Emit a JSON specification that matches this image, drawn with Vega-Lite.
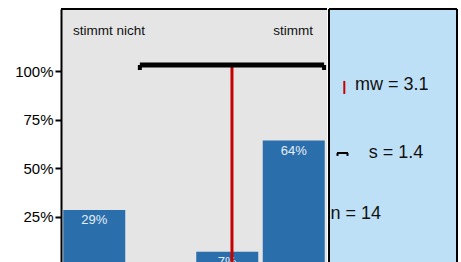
{
  "$schema": "https://vega.github.io/schema/vega-lite/v6.json",
  "padding": {"left": 5, "top": 8, "right": 6, "bottom": 0},
  "spacing": 0,
  "config": {"font": "Liberation Sans", "concat": {"spacing": 0}},
  "hconcat": [
    {
      "width": 266,
      "height": 254,
      "view": {"fill": "#e5e5e5", "stroke": null},
      "layer": [
        {
          "data": {"values": [
            {"cat": 1, "pct": 0.286, "label": "29%"},
            {"cat": 3, "pct": 0.071, "label": "7%"},
            {"cat": 4, "pct": 0.643, "label": "64%"}
          ]},
          "encoding": {
            "x": {"field": "cat", "type": "quantitative", "scale": {"domain": [0.5, 4.5], "nice": false, "zero": false, "padding": 0}, "axis": null},
            "y": {"field": "pct", "type": "quantitative", "scale": {"domain": [0.013, 1.32], "nice": false, "zero": false, "padding": 0},
              "axis": {"values": [0.25, 0.5, 0.75, 1], "format": ".0%", "labelFontSize": 15, "labelColor": "black", "labelPadding": 2,
                "tickSize": 6, "tickColor": "black", "tickWidth": 2, "domainColor": "black", "domainWidth": 2, "grid": false,
                "title": null, "minExtent": 56, "maxExtent": 56, "labelFont": "Liberation Sans"}}
          },
          "layer": [
            {"mark": {"type": "bar", "size": 62, "color": "#2a6eab", "clip": true}},
            {"mark": {"type": "text", "baseline": "top", "dy": 4, "color": "#e6eef7", "fontSize": 13, "clip": true},
              "encoding": {"text": {"field": "label"}}}
          ]
        },
        {
          "data": {"values": [{"mean": 3.071, "lo": 1.686, "hi": 4.456}]},
          "layer": [
            {"mark": {"type": "rule", "color": "#c80000", "strokeWidth": 3, "clip": true},
              "encoding": {"x": {"field": "mean", "type": "quantitative"}, "y": {"datum": 1.03}, "y2": {"datum": 0}}},
            {"mark": {"type": "rule", "color": "black", "strokeWidth": 5},
              "encoding": {"x": {"field": "lo", "type": "quantitative"}, "x2": {"field": "hi"}, "y": {"datum": 1.032}}},
            {"mark": {"type": "rule", "color": "black", "strokeWidth": 4},
              "encoding": {"x": {"field": "lo", "type": "quantitative"}, "y": {"datum": 1.032}, "y2": {"datum": 1.006}}},
            {"mark": {"type": "rule", "color": "black", "strokeWidth": 4},
              "encoding": {"x": {"field": "hi", "type": "quantitative"}, "y": {"datum": 1.032}, "y2": {"datum": 1.006}}}
          ]
        },
        {
          "data": {"values": [{"label": "stimmt nicht"}]},
          "mark": {"type": "text", "align": "left", "baseline": "alphabetic", "fontSize": 13.5, "color": "#111111"},
          "encoding": {"x": {"datum": 0.68}, "y": {"datum": 1.186}, "text": {"field": "label"}}
        },
        {
          "data": {"values": [{"label": "stimmt"}]},
          "mark": {"type": "text", "align": "center", "baseline": "alphabetic", "fontSize": 13.5, "color": "#111111"},
          "encoding": {"x": {"datum": 3.99}, "y": {"datum": 1.186}, "text": {"field": "label"}}
        },
        {
          "data": {"values": [{}]},
          "mark": {"type": "rule", "color": "black", "strokeWidth": 2},
          "encoding": {"y": {"datum": 1.32}}
        }
      ]
    },
    {
      "width": 128,
      "height": 254,
      "view": {"fill": "#bee0f7", "stroke": null},
      "encoding": {
        "x": {"type": "quantitative", "scale": {"domain": [0, 128], "nice": false, "zero": false, "padding": 0}, "axis": null},
        "y": {"type": "quantitative", "scale": {"domain": [0.013, 1.32], "nice": false, "zero": false, "padding": 0}, "axis": null}
      },
      "layer": [
        {
          "data": {"values": [{}]},
          "layer": [
            {"mark": {"type": "rule", "color": "black", "strokeWidth": 2}, "encoding": {"x": {"datum": 0}}},
            {"mark": {"type": "rule", "color": "black", "strokeWidth": 2}, "encoding": {"x": {"datum": 128}}},
            {"mark": {"type": "rule", "color": "black", "strokeWidth": 2}, "encoding": {"y": {"datum": 1.32}}},
            {"mark": {"type": "rule", "color": "#c80000", "strokeWidth": 2}, "encoding": {"x": {"datum": 15.3}, "y": {"datum": 0.95}, "y2": {"datum": 0.883}}},
            {"mark": {"type": "rule", "color": "black", "strokeWidth": 2}, "encoding": {"x": {"datum": 8}, "x2": {"datum": 19}, "y": {"datum": 0.579}}},
            {"mark": {"type": "rule", "color": "black", "strokeWidth": 2}, "encoding": {"x": {"datum": 8.5}, "y": {"datum": 0.579}, "y2": {"datum": 0.564}}},
            {"mark": {"type": "rule", "color": "black", "strokeWidth": 2}, "encoding": {"x": {"datum": 18.5}, "y": {"datum": 0.579}, "y2": {"datum": 0.564}}}
          ]
        },
        {
          "data": {"values": [{"label": "mw = 3.1"}]},
          "mark": {"type": "text", "align": "left", "baseline": "alphabetic", "fontSize": 18, "color": "#111111"},
          "encoding": {"x": {"datum": 26}, "y": {"datum": 0.903}, "text": {"field": "label"}}
        },
        {
          "data": {"values": [{"label": "s = 1.4"}]},
          "mark": {"type": "text", "align": "left", "baseline": "alphabetic", "fontSize": 18, "color": "#111111"},
          "encoding": {"x": {"datum": 39.7}, "y": {"datum": 0.553}, "text": {"field": "label"}}
        },
        {
          "data": {"values": [{"label": "n = 14"}]},
          "mark": {"type": "text", "align": "left", "baseline": "alphabetic", "fontSize": 18, "color": "#111111"},
          "encoding": {"x": {"datum": 1.5}, "y": {"datum": 0.239}, "text": {"field": "label"}}
        }
      ]
    }
  ]
}
